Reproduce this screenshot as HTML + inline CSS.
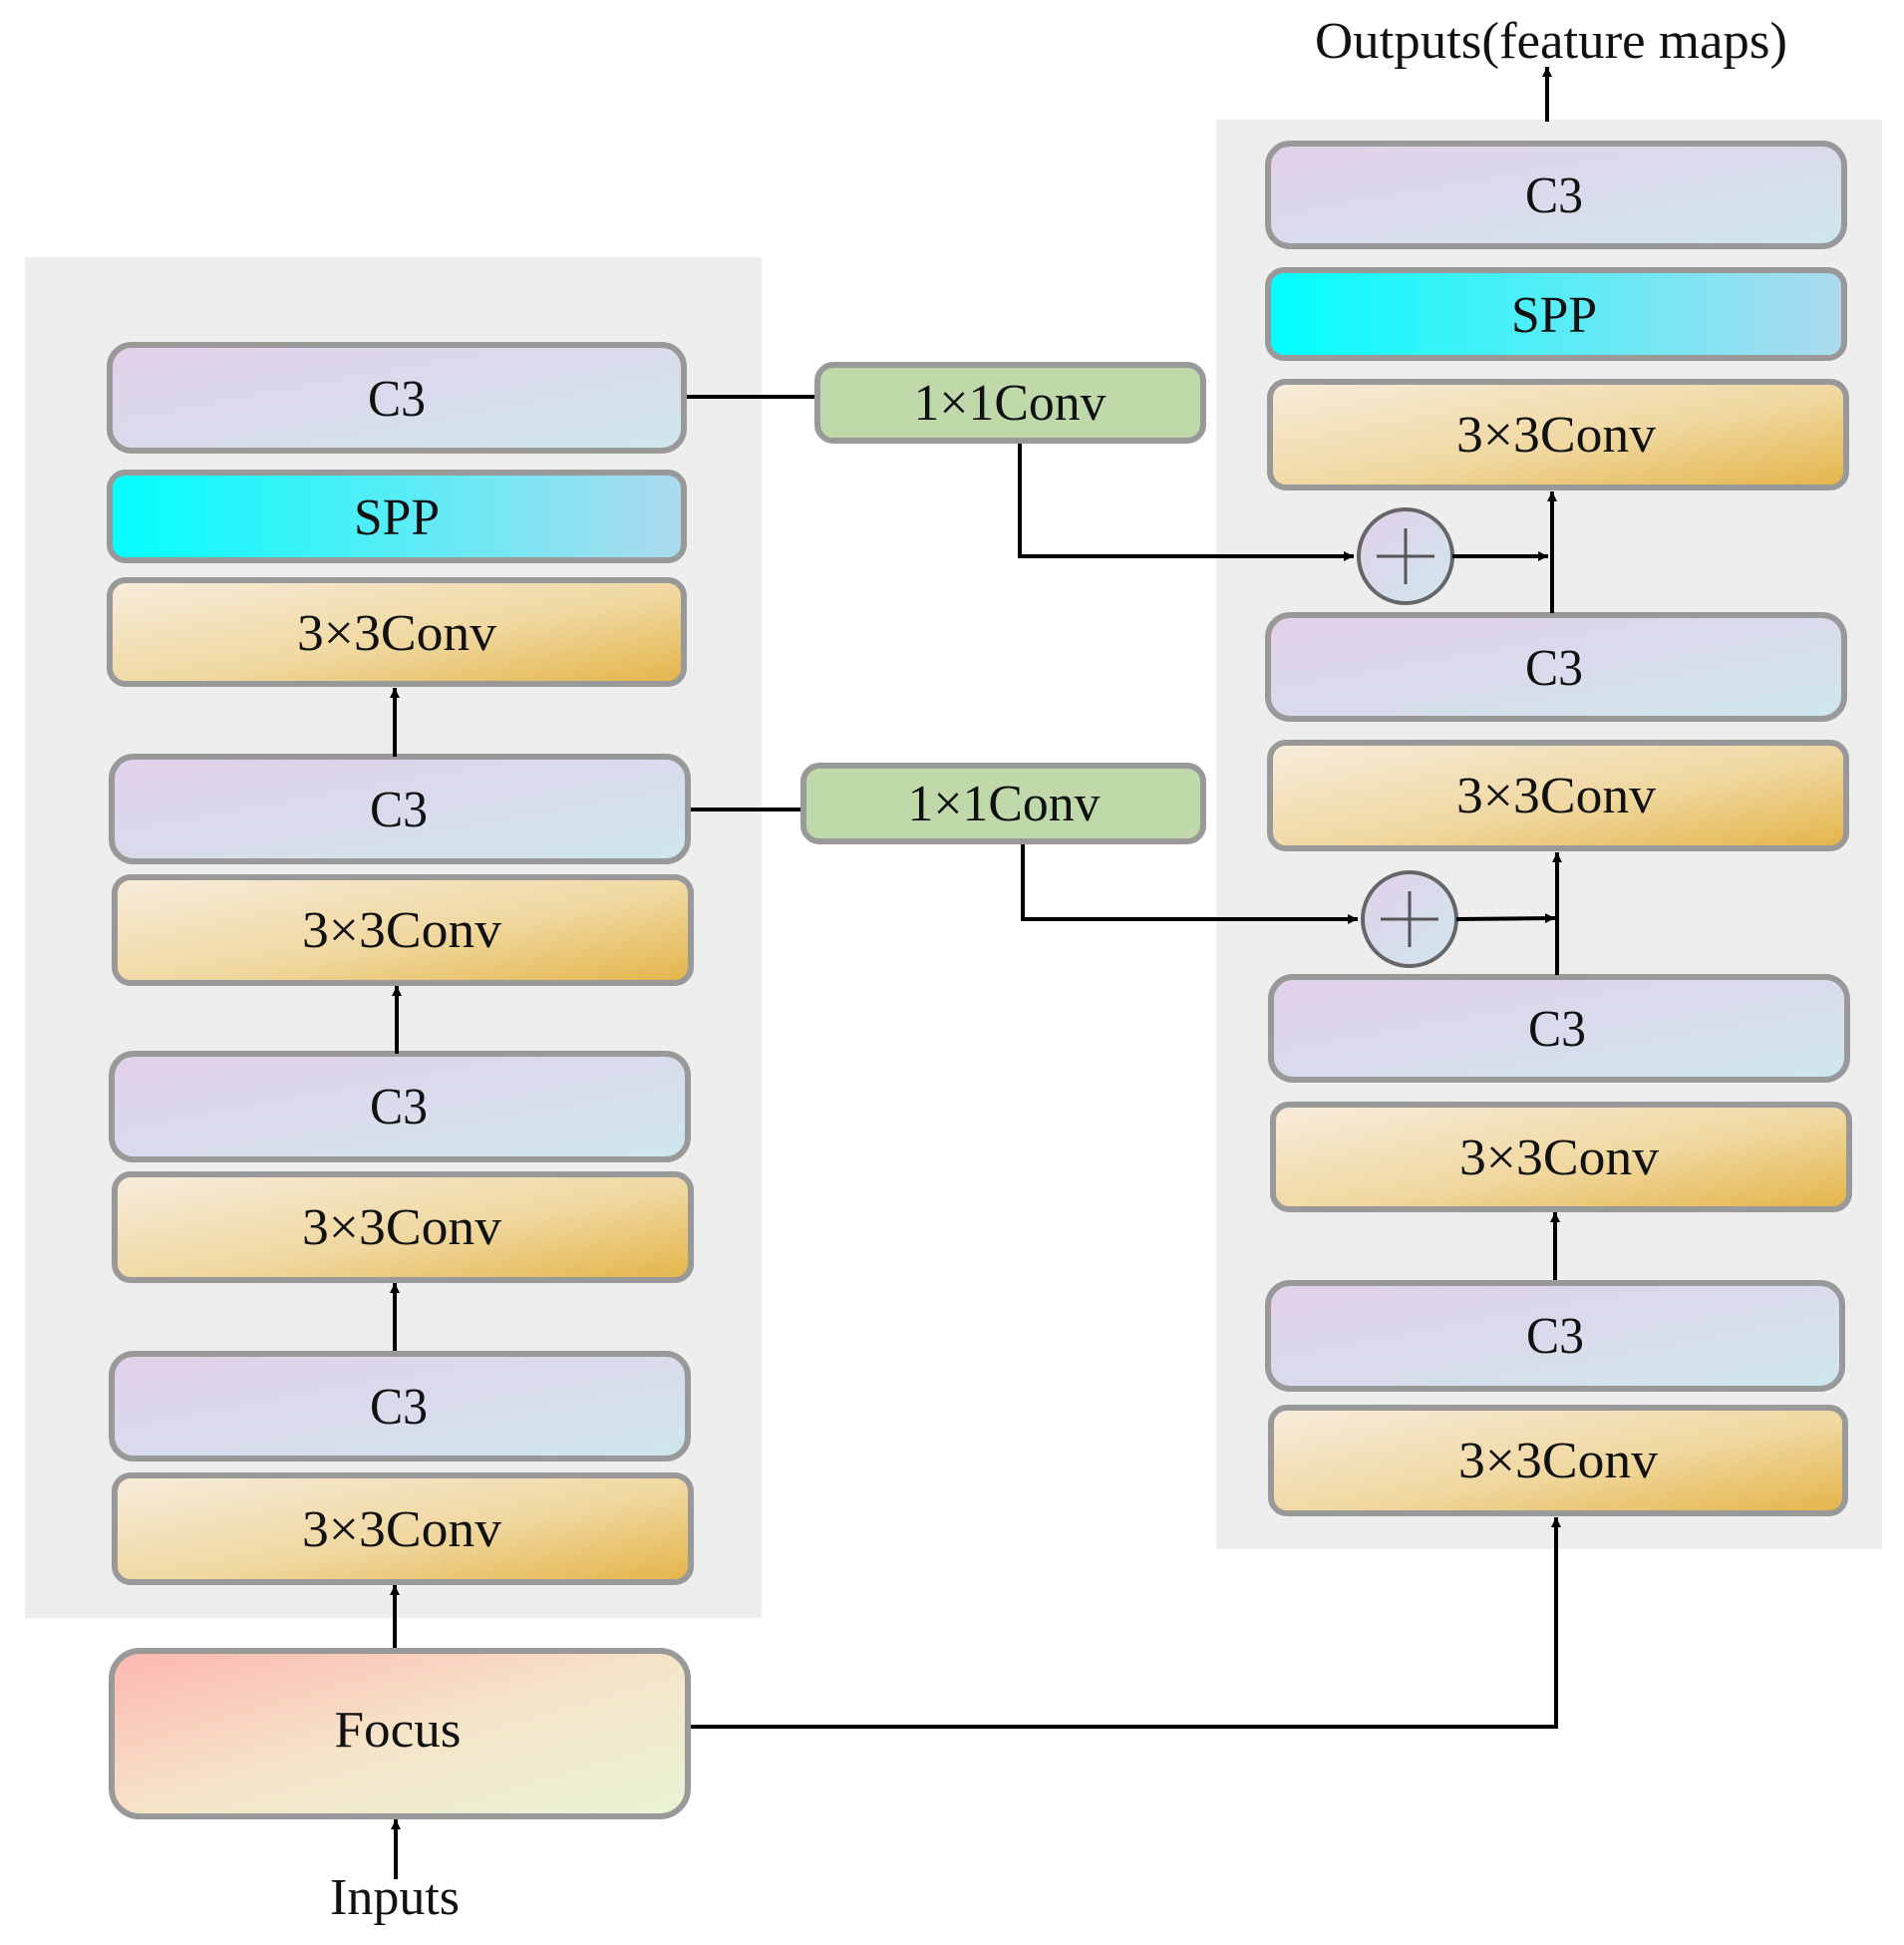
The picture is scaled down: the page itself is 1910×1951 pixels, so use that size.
<!DOCTYPE html>
<html><head><meta charset="utf-8"><style>
html,body{margin:0;padding:0;background:#fff;}
svg{display:block;}
text{font-family:"Liberation Serif",serif;font-size:52px;fill:#111;text-anchor:middle;}
</style></head><body>
<svg width="1910" height="1951" viewBox="0 0 1910 1951" xmlns="http://www.w3.org/2000/svg">
<defs>
<linearGradient id="c3" x1="0" y1="0" x2="1" y2="1"><stop offset="0" stop-color="#e2d0ea"/><stop offset="1" stop-color="#cfe7ee"/></linearGradient>
<linearGradient id="spp" x1="0" y1="0" x2="1" y2="0"><stop offset="0" stop-color="#00ffff"/><stop offset="1" stop-color="#aedaee"/></linearGradient>
<linearGradient id="cv" x1="0" y1="0" x2="1" y2="1"><stop offset="0" stop-color="#f8ecdc"/><stop offset="0.55" stop-color="#f0d8a0"/><stop offset="1" stop-color="#e4b448"/></linearGradient>
<linearGradient id="fc" x1="0" y1="0" x2="1" y2="1"><stop offset="0" stop-color="#fdb6b0"/><stop offset="0.5" stop-color="#f6e4c8"/><stop offset="1" stop-color="#e8f4d4"/></linearGradient>
<linearGradient id="ci" x1="0" y1="0" x2="1" y2="1"><stop offset="0" stop-color="#e2d0ea"/><stop offset="1" stop-color="#cfe7ee"/></linearGradient>
<marker id="ar" viewBox="0 0 10 10" refX="10" refY="5" markerWidth="10" markerHeight="10" markerUnits="userSpaceOnUse" orient="auto"><path d="M0,0 L10,5 L0,10 z" fill="#000"/></marker>
</defs>
<style>
.b{stroke:#999;stroke-width:6;}
.l{stroke:#000;stroke-width:4;fill:none;}
</style>
<!-- panels -->
<rect x="25" y="258" width="739" height="1365" fill="#eeeeee"/>
<rect x="1220" y="120" width="668" height="1434" fill="#eeeeee"/>

<!-- Left column -->
<rect class="b" x="110" y="346" width="576" height="106" rx="22" fill="url(#c3)"/>
<text x="398" y="417" textLength="58" lengthAdjust="spacingAndGlyphs">C3</text>
<rect class="b" x="110" y="474" width="576" height="88" rx="16" fill="url(#spp)"/>
<text x="398" y="536" textLength="86" lengthAdjust="spacingAndGlyphs">SPP</text>
<rect class="b" x="110" y="582" width="576" height="104" rx="16" fill="url(#cv)"/>
<text x="398" y="652" textLength="200" lengthAdjust="spacingAndGlyphs">3×3Conv</text>

<rect class="b" x="112" y="759" width="578" height="105" rx="22" fill="url(#c3)"/>
<text x="400" y="829" textLength="58" lengthAdjust="spacingAndGlyphs">C3</text>
<rect class="b" x="115" y="880" width="578" height="106" rx="16" fill="url(#cv)"/>
<text x="403" y="950" textLength="200" lengthAdjust="spacingAndGlyphs">3×3Conv</text>

<rect class="b" x="112" y="1057" width="578" height="106" rx="22" fill="url(#c3)"/>
<text x="400" y="1127" textLength="58" lengthAdjust="spacingAndGlyphs">C3</text>
<rect class="b" x="115" y="1178" width="578" height="106" rx="16" fill="url(#cv)"/>
<text x="403" y="1248" textLength="200" lengthAdjust="spacingAndGlyphs">3×3Conv</text>

<rect class="b" x="112" y="1358" width="578" height="105" rx="22" fill="url(#c3)"/>
<text x="400" y="1428" textLength="58" lengthAdjust="spacingAndGlyphs">C3</text>
<rect class="b" x="115" y="1480" width="578" height="107" rx="16" fill="url(#cv)"/>
<text x="403" y="1551" textLength="200" lengthAdjust="spacingAndGlyphs">3×3Conv</text>

<rect class="b" x="112" y="1656" width="578" height="166" rx="28" fill="url(#fc)"/>
<text x="399" y="1752" textLength="127" lengthAdjust="spacingAndGlyphs">Focus</text>
<text x="396" y="1920" textLength="130" lengthAdjust="spacingAndGlyphs">Inputs</text>

<!-- left arrows -->
<line class="l" x1="396" y1="759" x2="396" y2="690" marker-end="url(#ar)"/>
<line class="l" x1="398" y1="1057" x2="398" y2="989" marker-end="url(#ar)"/>
<line class="l" x1="396" y1="1355" x2="396" y2="1287" marker-end="url(#ar)"/>
<line class="l" x1="396" y1="1653" x2="396" y2="1590" marker-end="url(#ar)"/>
<line class="l" x1="397" y1="1885" x2="397" y2="1825" marker-end="url(#ar)"/>

<!-- 1x1 conv -->
<rect class="b" x="820" y="366" width="387" height="76" rx="16" fill="#bfd9aa"/>
<text x="1013" y="421" textLength="193" lengthAdjust="spacingAndGlyphs">1×1Conv</text>
<rect class="b" x="806" y="768" width="401" height="76" rx="16" fill="#bfd9aa"/>
<text x="1007" y="823" textLength="193" lengthAdjust="spacingAndGlyphs">1×1Conv</text>
<line class="l" x1="689" y1="398" x2="817" y2="398"/>
<line class="l" x1="693" y1="812" x2="803" y2="812"/>
<polyline class="l" points="1023,445 1023,558 1358,558" marker-end="url(#ar)"/>
<polyline class="l" points="1026,847 1026,922 1362,922" marker-end="url(#ar)"/>

<!-- circles -->
<circle cx="1410" cy="558" r="47" fill="url(#ci)" stroke="#666" stroke-width="4"/>
<line x1="1381" y1="558" x2="1439" y2="558" stroke="#555" stroke-width="3"/>
<line x1="1410" y1="530" x2="1410" y2="586" stroke="#555" stroke-width="3"/>
<circle cx="1414" cy="922" r="47" fill="url(#ci)" stroke="#666" stroke-width="4"/>
<line x1="1385" y1="922" x2="1443" y2="922" stroke="#555" stroke-width="3"/>
<line x1="1414" y1="894" x2="1414" y2="950" stroke="#555" stroke-width="3"/>
<line class="l" x1="1457" y1="558" x2="1553" y2="558" marker-end="url(#ar)"/>
<line class="l" x1="1461" y1="922" x2="1560" y2="921" marker-end="url(#ar)"/>

<!-- right column -->
<rect class="b" x="1272" y="144" width="578" height="103" rx="22" fill="url(#c3)"/>
<text x="1559" y="213" textLength="58" lengthAdjust="spacingAndGlyphs">C3</text>
<rect class="b" x="1272" y="271" width="578" height="88" rx="16" fill="url(#spp)"/>
<text x="1559" y="333" textLength="86" lengthAdjust="spacingAndGlyphs">SPP</text>
<rect class="b" x="1274" y="383" width="578" height="106" rx="16" fill="url(#cv)"/>
<text x="1561" y="453" textLength="200" lengthAdjust="spacingAndGlyphs">3×3Conv</text>

<rect class="b" x="1272" y="617" width="578" height="104" rx="22" fill="url(#c3)"/>
<text x="1559" y="687" textLength="58" lengthAdjust="spacingAndGlyphs">C3</text>
<rect class="b" x="1274" y="745" width="578" height="106" rx="16" fill="url(#cv)"/>
<text x="1561" y="815" textLength="200" lengthAdjust="spacingAndGlyphs">3×3Conv</text>

<rect class="b" x="1275" y="980" width="578" height="103" rx="22" fill="url(#c3)"/>
<text x="1562" y="1049" textLength="58" lengthAdjust="spacingAndGlyphs">C3</text>
<rect class="b" x="1277" y="1108" width="578" height="105" rx="16" fill="url(#cv)"/>
<text x="1564" y="1178" textLength="200" lengthAdjust="spacingAndGlyphs">3×3Conv</text>

<rect class="b" x="1272" y="1287" width="576" height="106" rx="22" fill="url(#c3)"/>
<text x="1560" y="1357" textLength="58" lengthAdjust="spacingAndGlyphs">C3</text>
<rect class="b" x="1275" y="1412" width="576" height="106" rx="16" fill="url(#cv)"/>
<text x="1563" y="1482" textLength="200" lengthAdjust="spacingAndGlyphs">3×3Conv</text>

<!-- right arrows -->
<line class="l" x1="1557" y1="615" x2="1557" y2="493" marker-end="url(#ar)"/>
<line class="l" x1="1562" y1="978" x2="1562" y2="855" marker-end="url(#ar)"/>
<line class="l" x1="1560" y1="1284" x2="1560" y2="1216" marker-end="url(#ar)"/>
<polyline class="l" points="693,1732 1561,1732 1561,1522" marker-end="url(#ar)"/>
<line class="l" x1="1552" y1="122" x2="1552" y2="67" marker-end="url(#ar)"/>
<text x="1556" y="58" textLength="474" lengthAdjust="spacingAndGlyphs">Outputs(feature maps)</text>
</svg>
</body></html>
